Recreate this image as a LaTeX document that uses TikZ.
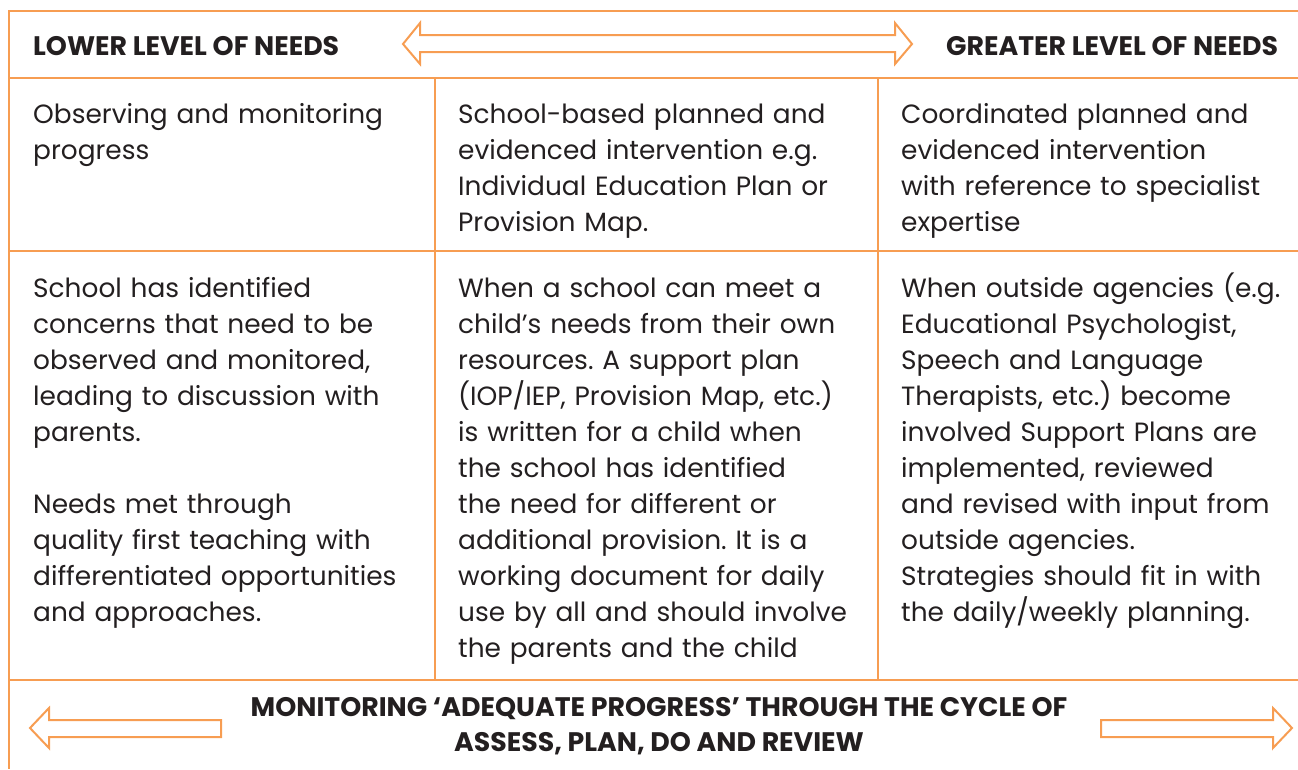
\documentclass[tikz,border=0pt]{standalone}
\usepackage{fontspec}
\setmainfont{Poppins}
\usetikzlibrary{positioning}
\definecolor{needorange}{RGB}{247,157,82}
\definecolor{needtext}{RGB}{35,31,32}
\frenchspacing

\begin{document}
\begin{tikzpicture}[x=1pt,y=-1pt,
    grid line/.style={draw=needorange,line width=2pt},
    arrow shape/.style={draw=needorange,line width=2pt,fill=white},
    cell/.style={anchor=base west,inner sep=0pt,text width=420pt,align=left,
                 text=needtext,font=\fontsize{26.4}{36}\selectfont},
    head/.style={anchor=base west,inner sep=0pt,text=needtext,
                 font=\bfseries\fontsize{26.8}{30}\selectfont}]

  \useasboundingbox (0,0) rectangle (1298,769);

  % table frame
  \draw[grid line] (1298,11) -- (9,11) -- (9,769);
  \draw[grid line] (9,78) -- (1298,78);
  \draw[grid line] (9,251) -- (1298,251);
  \draw[grid line] (9,680) -- (1298,680);
  \draw[grid line] (435,78) -- (435,680);
  \draw[grid line] (878,78) -- (878,680);

  % header
  \node[head] (lower) at (33,55) {LOWER LEVEL OF NEEDS};
  \node[head] (greater) at (946,55) {GREATER LEVEL OF NEEDS};
  \draw[arrow shape] (403,44) -- (420,23) -- (420,35) -- (895,35) -- (895,23)
    -- (912,44) -- (895,64) -- (895,52) -- (420,52) -- (420,64) -- cycle;

  % first row
  \node[cell] (observe) at (33,123) {Observing and monitoring\\ progress};
  \node[cell] (school) at (458,123) {School-based planned and\\ evidenced intervention e.g.\\
    Individual Education Plan or\\ Provision Map.};
  \node[cell] (coord) at (901,123) {Coordinated planned and\\ evidenced intervention\\
    with reference to specialist\\ expertise};

  % second row
  \node[cell] (concerns) at (33,297) {School has identified\\ concerns that need to be\\
    observed and monitored,\\ leading to discussion with\\ parents.\\[36pt]
    Needs met through\\ quality first teaching with\\ differentiated opportunities\\
    and approaches.};
  \node[cell] (ownres) at (458,297) {When a school can meet a\\ child’s needs from their own\\
    resources. A support plan\\ (IOP/IEP, Provision Map, etc.)\\ is written for a child when\\
    the school has identified\\ the need for different or\\ additional provision. It is a\\
    working document for daily\\ use by all and should involve\\ the parents and the child};
  \node[cell] (agencies) at (901,297) {When outside agencies (e.g.\\ Educational Psychologist,\\
    Speech and Language\\ Therapists, etc.) become\\ involved Support Plans are\\
    implemented, reviewed\\ and revised with input from\\ outside agencies.\\
    Strategies should fit in with\\ the daily/weekly planning.};

  % footer
  \node[anchor=base,inner sep=0pt,align=center,text=needtext,
        font=\bfseries\fontsize{26.8}{35}\selectfont] (cycle) at (659,751)
    {MONITORING ‘ADEQUATE PROGRESS’ THROUGH THE CYCLE OF\\ ASSESS, PLAN, DO AND REVIEW};
  \draw[arrow shape] (30,728) -- (49,708) -- (49,720) -- (221,720) -- (221,737)
    -- (49,737) -- (49,748) -- cycle;
  \draw[arrow shape] (1292,728) -- (1273,708) -- (1273,720) -- (1101,720) -- (1101,737)
    -- (1273,737) -- (1273,748) -- cycle;
\end{tikzpicture}
\end{document}
